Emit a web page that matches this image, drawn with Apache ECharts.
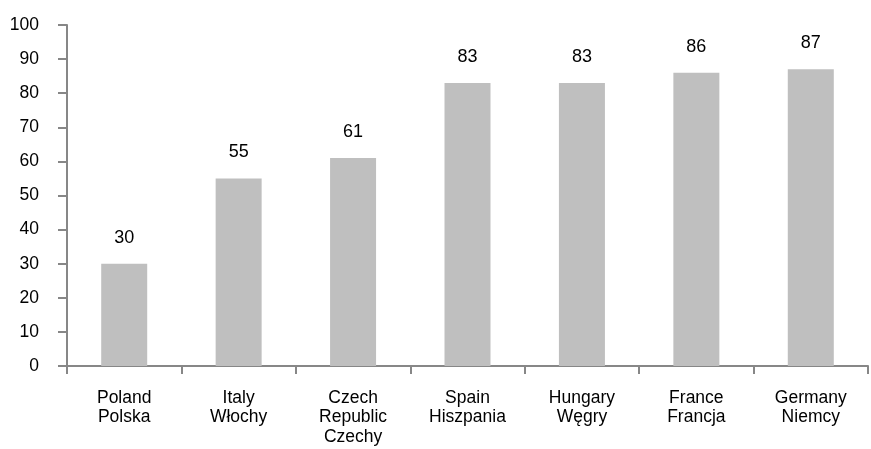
<!DOCTYPE html>
<html>
<head>
<meta charset="utf-8">
<script src="https://cdn.jsdelivr.net/npm/echarts@6/dist/echarts.min.js"></script>
<style>
  html, body { margin: 0; padding: 0; background: #fff; }
  #chart { width: 871px; height: 449px; }
</style>
</head>
<body>
<div id="chart"></div>
<script>
// countries, english + polish
const categories = [
  'Poland\nPolska',
  'Italy\nWłochy',
  'Czech\nRepublic\nCzechy',
  'Spain\nHiszpania',
  'Hungary\nWęgry',
  'France\nFrancja',
  'Germany\nNiemcy'
]
const values = [30, 55, 61, 83, 83, 86, 87]
const yTicks = [0, 10, 20, 30, 40, 50, 60, 70, 80, 90, 100]

const axisColor = '#878787'
const font = 'Liberation Sans, Arial, sans-serif'

const chart = echarts.init(document.getElementById('chart'), null, { renderer: 'canvas' })
chart.setOption({
  animation: false,
  grid: {
    left: 67,
    right: 3,
    top: 25,
    bottom: 83
  },
  xAxis: {
    type: 'category',
    data: categories,
    boundaryGap: true,
    axisLine: { lineStyle: { color: axisColor, width: 2 } },
    axisTick: { show: true, length: 8, lineStyle: { color: axisColor, width: 2 } },
    axisLabel: {
      color: '#000',
      fontFamily: font,
      fontSize: 17.5,
      lineHeight: 19.5,
      margin: 22,
      interval: 0
    }
  },
  yAxis: {
    type: 'value',
    min: yTicks[0],
    max: yTicks[yTicks.length - 1],
    interval: 10,
    splitLine: { show: false },
    axisLine: { show: true, lineStyle: { color: axisColor, width: 2 } },
    axisTick: { show: true, length: 9, lineStyle: { color: axisColor, width: 2 } },
    axisLabel: {
      color: '#000',
      fontFamily: font,
      fontSize: 17.5,
      margin: 28
    }
  },
  series: [
    {
      type: 'bar',
      data: values,
      barWidth: 46,
      itemStyle: { color: '#bfbfbf' },
      label: {
        show: true,
        position: 'top',
        distance: 17,
        color: '#000',
        fontFamily: font,
        fontSize: 18
      }
    }
  ]
})
</script>
</body>
</html>
